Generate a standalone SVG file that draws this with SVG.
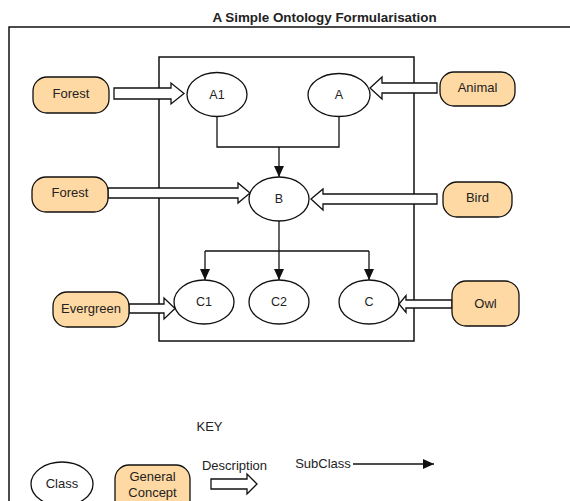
<svg xmlns="http://www.w3.org/2000/svg" width="570" height="501" viewBox="0 0 570 501">
  <style>
    .frame { fill: none; stroke: #111; stroke-width: 1.5; }
    .cls { fill: #fff; stroke: #111; stroke-width: 1.3; }
    .concept { fill: #ffd9a3; stroke: #111; stroke-width: 1.3; }
    .desc { fill: #fff; stroke: #111; stroke-width: 1.3; stroke-linejoin: miter; }
    .link { fill: none; stroke: #111; stroke-width: 1.3; }
    text { font-family: "Liberation Sans", Arial, sans-serif; fill: #222; text-anchor: middle; }
    .lbl { font-size: 13px; }
    .small { font-size: 12.5px; }
    .title { font-size: 13.4px; font-weight: bold; }
  </style>
  <defs>
    <marker id="sub" markerWidth="12" markerHeight="10" refX="11" refY="5" orient="auto" markerUnits="userSpaceOnUse">
      <path d="M0,0 L11,5 L0,10 Z" fill="#111"/>
    </marker>
  </defs>

  <rect width="570" height="501" fill="#fff"/>

  <text class="title" x="324.5" y="22">A Simple Ontology Formularisation</text>
  <path class="frame" d="M9,510 V27 H575"/>
  <rect class="frame" x="159" y="57" width="255" height="284"/>

  <!-- subclass connectors -->
  <g id="connectors">
    <path class="link" d="M217,116 V147 H339 V117"/>
    <path class="link" d="M279,147 V177" marker-end="url(#sub)"/>
    <path class="link" d="M279,221 V251"/>
    <path class="link" d="M205,251 H369"/>
    <path class="link" d="M205,251 V280" marker-end="url(#sub)"/>
    <path class="link" d="M279,251 V280" marker-end="url(#sub)"/>
    <path class="link" d="M369,251 V280" marker-end="url(#sub)"/>

    <!-- description arrows -->
    <path class="desc" d="M114,88 H171 V83 L184,93.5 L171,104 V99 H114 Z"/>
    <path class="desc" d="M437,83 H382 V77 L370,88 L382,99 V93 H437 Z"/>
    <path class="desc" d="M108,188 H238 V183 L250,193 L238,203 V198 H108 Z"/>
    <path class="desc" d="M437,194 H323 V189 L311,199 L323,210 V204 H437 Z"/>
    <path class="desc" d="M129,304 H164 V298 L175,308.5 L164,319 V313 H129 Z"/>
    <path class="desc" d="M452,300 H406 V295.5 L399,304 L406,312.5 V308 H452 Z"/>
  </g>

  <!-- classes -->
  <g id="A1"><ellipse class="cls" cx="217" cy="94.5" rx="30" ry="22"/><text class="small" x="217" y="98.5">A1</text></g>
  <g id="A"><ellipse class="cls" cx="339" cy="95" rx="31" ry="21.5"/><text class="small" x="339" y="99">A</text></g>
  <g id="B"><ellipse class="cls" cx="279" cy="199" rx="30" ry="22"/><text class="small" x="279" y="203">B</text></g>
  <g id="C1"><ellipse class="cls" cx="204" cy="302" rx="30" ry="22"/><text class="small" x="204" y="306">C1</text></g>
  <g id="C2"><ellipse class="cls" cx="279" cy="302" rx="30" ry="22"/><text class="small" x="279" y="306">C2</text></g>
  <g id="C"><ellipse class="cls" cx="369" cy="302" rx="30" ry="22"/><text class="small" x="369" y="306">C</text></g>

  <!-- general concepts -->
  <g id="forest1"><rect class="concept" x="33" y="77" width="76" height="36" rx="14"/><text class="lbl" x="71" y="98">Forest</text></g>
  <g id="animal"><rect class="concept" x="440" y="72" width="75" height="34" rx="14"/><text class="lbl" x="477.5" y="92">Animal</text></g>
  <g id="forest2"><rect class="concept" x="32" y="177" width="76" height="35" rx="14"/><text class="lbl" x="70" y="197">Forest</text></g>
  <g id="bird"><rect class="concept" x="443" y="182" width="69" height="35" rx="14"/><text class="lbl" x="477.5" y="202">Bird</text></g>
  <g id="evergreen"><rect class="concept" x="53" y="292" width="76" height="35" rx="14"/><text class="lbl" x="91" y="313">Evergreen</text></g>
  <g id="owl"><rect class="concept" x="452" y="281" width="67" height="45" rx="14"/><text class="lbl" x="485.5" y="308">Owl</text></g>

  <!-- key -->
  <g id="key">
    <text class="lbl" x="209.5" y="431">KEY</text>
    <g id="key-class"><ellipse class="cls" cx="62" cy="484" rx="31" ry="22"/><text class="lbl" x="62" y="487.5">Class</text></g>
    <g id="key-concept"><rect class="concept" x="115" y="465" width="75" height="50" rx="14"/><text class="lbl" x="152.5" y="480.5">General</text><text class="lbl" x="152.5" y="496.5">Concept</text></g>
    <text class="lbl" x="234.5" y="469.5">Description</text>
    <path class="desc" d="M211,479 H247 V474 L257,484 L247,494 V489 H211 Z"/>
    <text class="lbl" x="323" y="467.5">SubClass</text>
    <path class="link" d="M353,464 H434" marker-end="url(#sub)"/>
  </g>
</svg>
